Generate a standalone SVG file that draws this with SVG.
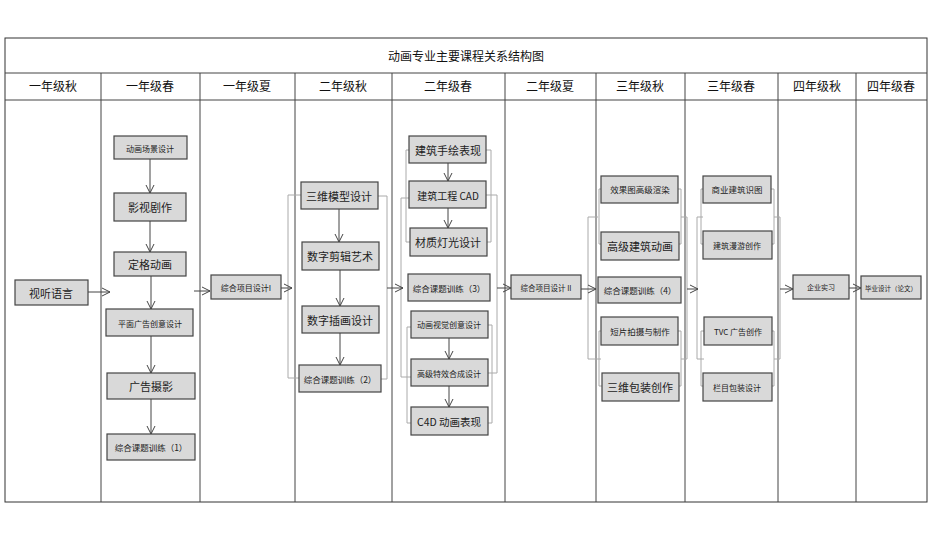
<svg xmlns="http://www.w3.org/2000/svg" width="931" height="533" viewBox="0 0 931 533">
<style>
.frame{fill:none;stroke:#333;stroke-width:1}
.col{stroke:#444;stroke-width:1}
.n rect{fill:#d9d9d9;stroke:#444;stroke-width:1.2}
.n text{font-family:"Noto Sans CJK SC","Liberation Serif",serif;fill:#222;text-anchor:middle;dominant-baseline:central}
.h{font-family:"Noto Sans CJK SC",sans-serif;font-size:12px;fill:#111;text-anchor:middle}
.a{stroke:#444;stroke-width:1;fill:none;marker-end:url(#m)}
.b{stroke:#aaa;stroke-width:1;fill:none}
</style>
<defs><marker id="m" markerWidth="10" markerHeight="10" refX="9" refY="5" orient="auto" markerUnits="userSpaceOnUse"><path d="M1,1 L9,5 L1,9" fill="none" stroke="#444"/></marker></defs>
<rect width="931" height="533" fill="#fff"/>
<g id="grid">
<rect class="frame" x="5" y="38" width="922" height="464"/>
<line class="col" x1="5" y1="73" x2="927" y2="73"/>
<line class="col" x1="5" y1="100" x2="927" y2="100"/>
<g class="col">
<line x1="101" y1="73" x2="101" y2="502"/><line x1="200" y1="73" x2="200" y2="502"/><line x1="295" y1="73" x2="295" y2="502"/><line x1="392" y1="73" x2="392" y2="502"/><line x1="505" y1="73" x2="505" y2="502"/><line x1="596" y1="73" x2="596" y2="502"/><line x1="685" y1="73" x2="685" y2="502"/><line x1="778" y1="73" x2="778" y2="502"/><line x1="856" y1="73" x2="856" y2="502"/>
</g>
<text class="h" x="466" y="61" font-size="14">动画专业主要课程关系结构图</text>
<text class="h" x="53" y="91">一年级秋</text><text class="h" x="150" y="91">一年级春</text><text class="h" x="247" y="91">一年级夏</text><text class="h" x="343" y="91">二年级秋</text><text class="h" x="448" y="91">二年级春</text><text class="h" x="550" y="91">二年级夏</text><text class="h" x="640" y="91">三年级秋</text><text class="h" x="731" y="91">三年级春</text><text class="h" x="817" y="91">四年级秋</text><text class="h" x="891" y="91">四年级春</text>
</g>
<g id="connectors">
<path class="b" d="M301,195 H288 V378 H299 M378,196 H387 V379 H381"/>
<path class="b" d="M409,150 H406 V242 H410 M486,150 H491 V242 H487"/>
<path class="b" d="M409,198 H401 V377 H411 M486,195 H497 V373 H488"/>
<path class="b" d="M411,327 H407 V423 H411 M488,325 H492 V423 H488"/>
<path class="b" d="M598,217 H588 V359 H601 M601,189 H599 V244 H601 M601,331 H599 V386 H602 M678,189 H681 V244 H679 M678,331 H681 V386 H679 M681,217 H687 V359 H681"/>
<path class="b" d="M703,217 H697 V359 H704 M703,189 H701 V244 H703 M704,331 H701 V386 H703 M771,189 H774 V244 H772 M772,331 H774 V386 H772 M774,217 H780 V359 H774"/>
<line class="a" x1="150" y1="159" x2="150" y2="193"/>
<line class="a" x1="150" y1="221" x2="150" y2="252"/>
<line class="a" x1="151" y1="276" x2="151" y2="309"/>
<line class="a" x1="151" y1="336" x2="151" y2="373"/>
<line class="a" x1="151" y1="399" x2="151" y2="434"/>
<line class="a" x1="88" y1="292" x2="110" y2="292"/>
<line class="a" x1="194" y1="291" x2="210" y2="291"/>
<line class="a" x1="281" y1="288" x2="292" y2="288"/>
<line class="a" x1="339" y1="209" x2="339" y2="242"/>
<line class="a" x1="340" y1="270" x2="340" y2="306"/>
<line class="a" x1="340" y1="333" x2="340" y2="365"/>
<line class="a" x1="387" y1="288" x2="403" y2="288"/>
<line class="a" x1="448" y1="163" x2="448" y2="181"/>
<line class="a" x1="448" y1="208" x2="448" y2="228"/>
<line class="a" x1="449" y1="338" x2="449" y2="359"/>
<line class="a" x1="449" y1="386" x2="449" y2="407"/>
<line class="a" x1="497" y1="288" x2="511" y2="288"/>
<line class="a" x1="581" y1="289" x2="596" y2="289"/>
<line class="a" x1="687" y1="289" x2="698" y2="289"/>
<line class="a" x1="780" y1="289" x2="793" y2="289"/>
<line class="a" x1="849" y1="288" x2="861" y2="288"/>
</g>
<g id="n1" class="n"><rect x="15" y="280" width="73" height="25"/><text x="51" y="293" font-size="11">视听语言</text></g>
<g id="n2" class="n"><rect x="114" y="136" width="73" height="23"/><text x="150" y="148" font-size="8">动画场景设计</text></g>
<g id="n3" class="n"><rect x="114" y="193" width="72" height="28"/><text x="150" y="207" font-size="11">影视剧作</text></g>
<g id="n4" class="n"><rect x="114" y="252" width="72" height="24"/><text x="150" y="264" font-size="11">定格动画</text></g>
<g id="n5" class="n"><rect x="106" y="309" width="87" height="27"/><text x="150" y="323" font-size="8">平面广告创意设计</text></g>
<g id="n6" class="n"><rect x="107" y="373" width="88" height="26"/><text x="151" y="386" font-size="11">广告摄影</text></g>
<g id="n7" class="n"><rect x="107" y="434" width="88" height="26"/><text x="151" y="447" font-size="8.5">综合课题训练（1）</text></g>
<g id="n8" class="n"><rect x="211" y="275" width="70" height="24"/><text x="246" y="287" font-size="8">综合项目设计I</text></g>
<g id="n9" class="n"><rect x="301" y="182" width="77" height="27"/><text x="339" y="196" font-size="11">三维模型设计</text></g>
<g id="n10" class="n"><rect x="302" y="242" width="77" height="28"/><text x="340" y="256" font-size="11">数字剪辑艺术</text></g>
<g id="n11" class="n"><rect x="302" y="306" width="77" height="27"/><text x="340" y="320" font-size="11">数字插画设计</text></g>
<g id="n12" class="n"><rect x="299" y="365" width="82" height="27"/><text x="340" y="379" font-size="8.5">综合课题训练（2）</text></g>
<g id="n13" class="n"><rect x="409" y="136" width="77" height="27"/><text x="448" y="150" font-size="11">建筑手绘表现</text></g>
<g id="n14" class="n"><rect x="409" y="181" width="77" height="27"/><text x="448" y="195" font-size="10">建筑工程 CAD</text></g>
<g id="n15" class="n"><rect x="410" y="228" width="77" height="28"/><text x="448" y="242" font-size="11">材质灯光设计</text></g>
<g id="n16" class="n"><rect x="408" y="274" width="82" height="27"/><text x="449" y="288" font-size="8.5">综合课题训练（3）</text></g>
<g id="n17" class="n"><rect x="411" y="311" width="77" height="27"/><text x="449" y="324" font-size="8">动画视觉创意设计</text></g>
<g id="n18" class="n"><rect x="411" y="359" width="77" height="27"/><text x="449" y="373" font-size="8">高级特效合成设计</text></g>
<g id="n19" class="n"><rect x="411" y="407" width="77" height="28"/><text x="449" y="421" font-size="10.5">C4D 动画表现</text></g>
<g id="n20" class="n"><rect x="511" y="275" width="70" height="24"/><text x="546" y="287" font-size="7.5">综合项目设计 II</text></g>
<g id="n21" class="n"><rect x="601" y="176" width="77" height="27"/><text x="640" y="189" font-size="8.5">效果图高级渲染</text></g>
<g id="n22" class="n"><rect x="601" y="232" width="78" height="28"/><text x="640" y="246" font-size="11">高级建筑动画</text></g>
<g id="n23" class="n"><rect x="598" y="277" width="83" height="26"/><text x="640" y="290" font-size="8.5">综合课题训练（4）</text></g>
<g id="n24" class="n"><rect x="601" y="317" width="77" height="28"/><text x="640" y="331" font-size="8.5">短片拍摄与制作</text></g>
<g id="n25" class="n"><rect x="602" y="373" width="77" height="28"/><text x="640" y="387" font-size="11">三维包装创作</text></g>
<g id="n26" class="n"><rect x="703" y="176" width="68" height="27"/><text x="737" y="189" font-size="8.5">商业建筑识图</text></g>
<g id="n27" class="n"><rect x="703" y="231" width="69" height="28"/><text x="737" y="245" font-size="8">建筑漫游创作</text></g>
<g id="n28" class="n"><rect x="704" y="317" width="68" height="28"/><text x="738" y="331" font-size="8">TVC 广告创作</text></g>
<g id="n29" class="n"><rect x="703" y="373" width="69" height="28"/><text x="737" y="387" font-size="8">栏目包装设计</text></g>
<g id="n30" class="n"><rect x="793" y="275" width="56" height="24"/><text x="821" y="287" font-size="7">企业实习</text></g>
<g id="n31" class="n"><rect x="861" y="276" width="60" height="23"/><text x="891" y="288" font-size="6.5">毕业设计（论文）</text></g>
</svg>
